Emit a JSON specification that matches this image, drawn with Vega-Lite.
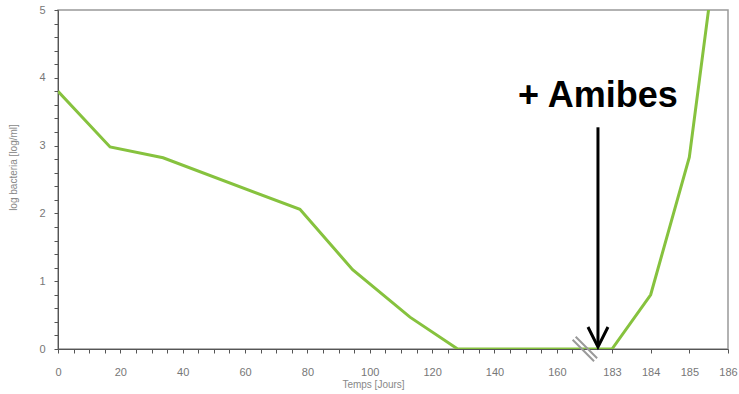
{
  "$schema": "https://vega.github.io/schema/vega-lite/v6.json",
  "autosize": "none",
  "width": 670,
  "height": 339,
  "padding": {"left": 58, "top": 10, "right": 11, "bottom": 45},
  "background": "white",
  "config": {
    "view": {"stroke": "#999999", "strokeWidth": 1.5},
    "font": "Liberation Sans",
    "axis": {"grid": false, "domainColor": "#555555", "tickColor": "#555555", "labelColor": "#777777", "labelFontSize": 11, "titleColor": "#888888", "titleFontSize": 10, "titleFontWeight": "normal", "labelFont": "Liberation Sans", "titleFont": "Liberation Sans", "labelOverlap": false, "labelFlush": false, "ticks": true, "tickSize": 4}
  },
  "datasets": {
    "series": [
      {"day": 0, "logb": 3.8},
      {"day": 16.7, "logb": 2.98},
      {"day": 33.7, "logb": 2.82},
      {"day": 77.6, "logb": 2.06},
      {"day": 94.5, "logb": 1.17},
      {"day": 112.9, "logb": 0.47},
      {"day": 128.2, "logb": 0},
      {"day": 183, "logb": 0},
      {"day": 184, "logb": 0.8},
      {"day": 185, "logb": 2.83},
      {"day": 186, "logb": 7.2}
    ],
    "one": [{"label": "+ Amibes"}]
  },
  "layer": [
    {
      "data": {"name": "series"},
      "mark": {"type": "line", "color": "#86c23e", "strokeWidth": 3, "clip": true},
      "encoding": {
        "x": {
          "field": "day", "type": "quantitative",
          "scale": {"domain": [0, 170, 183, 186], "range": [0, 530, 554, 670], "nice": false, "zero": false},
          "axis": {"title": "Temps [Jours]", "titleX": 315, "titleY": 30, "values": [0,5,10,15,20,25,30,35,40,45,50,55,60,65,70,75,80,85,90,95,100,105,110,115,120,125,130,135,140,145,150,155,160,165,183,184,185,186], "labelExpr": "(datum.value >= 183 || datum.value % 20 === 0) ? datum.value : ''", "labelPadding": 13}
        },
        "y": {
          "field": "logb", "type": "quantitative",
          "scale": {"domain": [0, 5], "nice": false, "zero": false},
          "axis": {"title": "log bacteria [log/ml]", "titleX": -40, "titleY": 157, "values": [0,0.2,0.4,0.6,0.8,1,1.2,1.4,1.6,1.8,2,2.2,2.4,2.6,2.8,3,3.2,3.4,3.6,3.8,4,4.2,4.4,4.6,4.8,5], "labelExpr": "datum.value % 1 === 0 ? datum.value : ''", "labelPadding": 9}
        }
      }
    },
    {
      "data": {"name": "one"},
      "mark": {"type": "point", "shape": "M-1,-0.75L0.75,1M-0.75,-1L1,0.75", "filled": false, "stroke": "#9a9a9a", "strokeWidth": 2, "size": 600, "opacity": 1},
      "encoding": {
        "x": {"datum": 169, "type": "quantitative", "scale": {"domain": [0, 170, 183, 186], "range": [0, 530, 554, 670], "nice": false, "zero": false},
          "axis": {"title": "Temps [Jours]", "titleX": 315, "titleY": 30, "values": [0,5,10,15,20,25,30,35,40,45,50,55,60,65,70,75,80,85,90,95,100,105,110,115,120,125,130,135,140,145,150,155,160,165,183,184,185,186], "labelExpr": "(datum.value >= 183 || datum.value % 20 === 0) ? datum.value : ''", "labelPadding": 13}},
        "y": {"datum": 0, "type": "quantitative", "scale": {"domain": [0, 5], "nice": false, "zero": false},
          "axis": {"title": "log bacteria [log/ml]", "titleX": -40, "titleY": 157, "values": [0,0.2,0.4,0.6,0.8,1,1.2,1.4,1.6,1.8,2,2.2,2.4,2.6,2.8,3,3.2,3.4,3.6,3.8,4,4.2,4.4,4.6,4.8,5], "labelExpr": "datum.value % 1 === 0 ? datum.value : ''", "labelPadding": 9}}
      }
    },
    {
      "data": {"name": "one"},
      "mark": {"type": "rule", "color": "black", "strokeWidth": 3},
      "encoding": {
        "x": {"datum": 175.4, "type": "quantitative", "scale": {"domain": [0, 170, 183, 186], "range": [0, 530, 554, 670], "nice": false, "zero": false},
          "axis": {"title": "Temps [Jours]", "titleX": 315, "titleY": 30, "values": [0,5,10,15,20,25,30,35,40,45,50,55,60,65,70,75,80,85,90,95,100,105,110,115,120,125,130,135,140,145,150,155,160,165,183,184,185,186], "labelExpr": "(datum.value >= 183 || datum.value % 20 === 0) ? datum.value : ''", "labelPadding": 13}},
        "y": {"datum": 3.27, "type": "quantitative", "scale": {"domain": [0, 5], "nice": false, "zero": false},
          "axis": {"title": "log bacteria [log/ml]", "titleX": -40, "titleY": 157, "values": [0,0.2,0.4,0.6,0.8,1,1.2,1.4,1.6,1.8,2,2.2,2.4,2.6,2.8,3,3.2,3.4,3.6,3.8,4,4.2,4.4,4.6,4.8,5], "labelExpr": "datum.value % 1 === 0 ? datum.value : ''", "labelPadding": 9}},
        "y2": {"datum": 0.05}
      }
    },
    {
      "data": {"name": "one"},
      "mark": {"type": "point", "shape": "M-1,-2L0,0L1,-2", "filled": false, "stroke": "black", "strokeWidth": 3, "size": 400, "opacity": 1},
      "encoding": {
        "x": {"datum": 175.4, "type": "quantitative", "scale": {"domain": [0, 170, 183, 186], "range": [0, 530, 554, 670], "nice": false, "zero": false},
          "axis": {"title": "Temps [Jours]", "titleX": 315, "titleY": 30, "values": [0,5,10,15,20,25,30,35,40,45,50,55,60,65,70,75,80,85,90,95,100,105,110,115,120,125,130,135,140,145,150,155,160,165,183,184,185,186], "labelExpr": "(datum.value >= 183 || datum.value % 20 === 0) ? datum.value : ''", "labelPadding": 13}},
        "y": {"datum": 0.03, "type": "quantitative", "scale": {"domain": [0, 5], "nice": false, "zero": false},
          "axis": {"title": "log bacteria [log/ml]", "titleX": -40, "titleY": 157, "values": [0,0.2,0.4,0.6,0.8,1,1.2,1.4,1.6,1.8,2,2.2,2.4,2.6,2.8,3,3.2,3.4,3.6,3.8,4,4.2,4.4,4.6,4.8,5], "labelExpr": "datum.value % 1 === 0 ? datum.value : ''", "labelPadding": 9}}
      }
    },
    {
      "data": {"name": "one"},
      "mark": {"type": "text", "font": "Liberation Sans", "fontSize": 36, "fontWeight": "bold", "color": "black", "align": "center", "baseline": "alphabetic"},
      "encoding": {
        "text": {"field": "label"},
        "x": {"datum": 175.4, "type": "quantitative", "scale": {"domain": [0, 170, 183, 186], "range": [0, 530, 554, 670], "nice": false, "zero": false},
          "axis": {"title": "Temps [Jours]", "titleX": 315, "titleY": 30, "values": [0,5,10,15,20,25,30,35,40,45,50,55,60,65,70,75,80,85,90,95,100,105,110,115,120,125,130,135,140,145,150,155,160,165,183,184,185,186], "labelExpr": "(datum.value >= 183 || datum.value % 20 === 0) ? datum.value : ''", "labelPadding": 13}},
        "y": {"datum": 3.57, "type": "quantitative", "scale": {"domain": [0, 5], "nice": false, "zero": false},
          "axis": {"title": "log bacteria [log/ml]", "titleX": -40, "titleY": 157, "values": [0,0.2,0.4,0.6,0.8,1,1.2,1.4,1.6,1.8,2,2.2,2.4,2.6,2.8,3,3.2,3.4,3.6,3.8,4,4.2,4.4,4.6,4.8,5], "labelExpr": "datum.value % 1 === 0 ? datum.value : ''", "labelPadding": 9}}
      }
    }
  ]
}
